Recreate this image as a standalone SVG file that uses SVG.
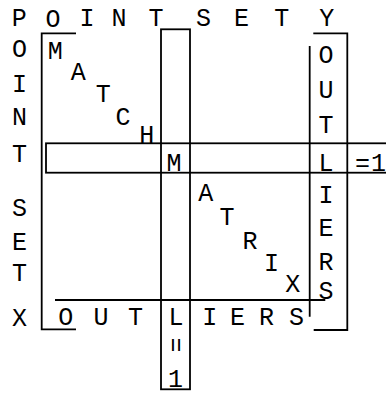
<svg xmlns="http://www.w3.org/2000/svg" width="386" height="394" viewBox="0 0 386 394">
<style>
text{font-family:"Liberation Mono","Courier New",monospace;font-size:25px;fill:#000;text-anchor:middle}
.ln{stroke:#000;stroke-width:1.8;fill:none}
</style>
<rect width="386" height="394" fill="#fff"/>
<g id="connectors">
<polyline class="ln" points="76,33.3 41.7,33.3 41.7,329.3 76,329.3"/>
<line class="ln" x1="55" y1="300" x2="325.3" y2="300"/>
<polyline class="ln" points="313.3,33.3 347.3,33.3 347.3,330 313.7,330"/>
<line class="ln" x1="309.7" y1="46" x2="309.7" y2="316.7"/>
<rect class="ln" x="161" y="29.3" width="29" height="360"/>
<rect class="ln" x="46" y="143.3" width="360" height="29.4"/>
</g>
<g id="point-set-y">
<text x="19.3" y="25.5">P</text>
<text x="53" y="26.5">O</text>
<text x="87" y="25.5">I</text>
<text x="119" y="25.5">N</text>
<text x="156" y="25.5">T</text>
<text x="203.5" y="25.5">S</text>
<text x="241.5" y="25.5">E</text>
<text x="281.7" y="25.5">T</text>
<text x="326.7" y="25.5">Y</text>
</g>
<g id="point-set-x">
<text x="19.5" y="57">O</text>
<text x="19.5" y="92">I</text>
<text x="19.5" y="124.5">N</text>
<text x="19.5" y="162">T</text>
<text x="19.5" y="216">S</text>
<text x="19.5" y="250">E</text>
<text x="19.5" y="281">T</text>
<text x="19.5" y="325.5">X</text>
</g>
<g id="match-matrix">
<text x="55.3" y="59">M</text>
<text x="78.3" y="80">A</text>
<text x="103.3" y="101.7">T</text>
<text x="123" y="125">C</text>
<text x="146.7" y="142.5">H</text>
<text x="174" y="170.5">M</text>
<text x="205.8" y="201">A</text>
<text x="227" y="225">T</text>
<text x="250" y="249">R</text>
<text x="271.5" y="270.7">I</text>
<text x="292.7" y="291.7">X</text>
</g>
<g id="outliers-y">
<text x="326" y="63">O</text>
<text x="326" y="97.5">U</text>
<text x="326" y="133">T</text>
<text x="326" y="170.5">L</text>
<text x="326" y="203">I</text>
<text x="326" y="236">E</text>
<text x="326" y="270">R</text>
<text x="326" y="298.5">S</text>
<text x="355" y="170.5" style="text-anchor:start" letter-spacing="1">=1</text>
</g>
<g id="outliers-x">
<text x="65.7" y="324.5">O</text>
<text x="101" y="324.5">U</text>
<text x="135.5" y="324.5">T</text>
<text x="176" y="324.5">L</text>
<text x="209.7" y="324.5">I</text>
<text x="237.5" y="324.5">E</text>
<text x="266.5" y="324.5">R</text>
<text x="296.5" y="324.5">S</text>
<text transform="translate(174,345) rotate(90)" dominant-baseline="central">=</text>
<text x="175.5" y="386.5">1</text>
</g>
</svg>
